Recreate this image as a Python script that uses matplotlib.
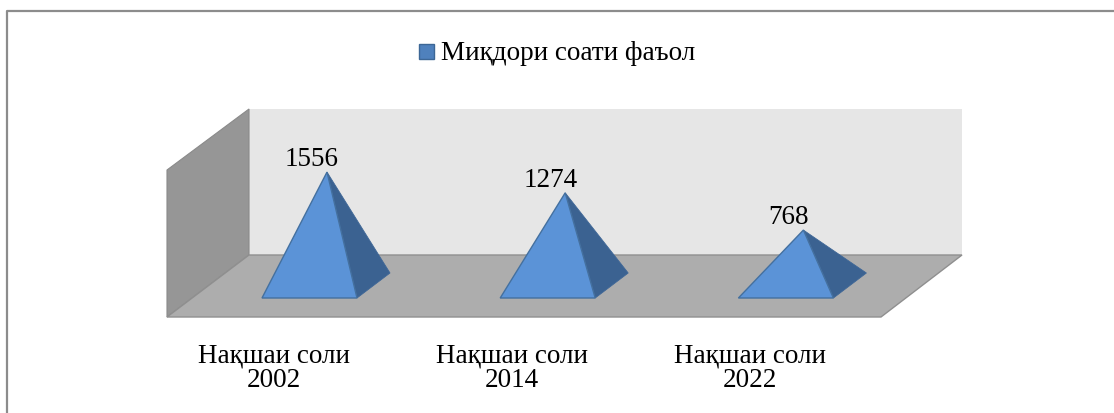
"""Flat redraw of the 3D pyramid column chart, in pixel coordinates."""
import matplotlib
matplotlib.use("Agg")
import matplotlib.pyplot as plt
from matplotlib.patches import Polygon, Rectangle

plt.rcParams["font.family"] = ["Liberation Serif", "DejaVu Serif"]

categories = ["Нақшаи соли\n2002", "Нақшаи соли\n2014", "Нақшаи соли\n2022"]
values = [1556, 1274, 768]
series_name = "Миқдори соати фаъол"

W, H = 1114, 414
BASE_Y = 287.6  # y of value 0 at pyramid axis
PX_PER_UNIT = 0.0736
FIRST_X, STEP_X = 326, 238.2

fig = plt.figure(figsize=(W / 100, H / 100), dpi=100)
ax = fig.add_axes([0, 0, 1, 1])
ax.set_xlim(0, W)
ax.set_ylim(H, 0)
ax.axis("off")


def poly(pts, fc, ec="none", lw=0.0, z=1):
    ax.add_patch(Polygon(pts, closed=True, facecolor=fc, edgecolor=ec, linewidth=lw, zorder=z))


# chart frame
ax.plot([7, 7, 1114], [H, 12, 12], color="#8c8c8c", lw=1.6, zorder=0)

# walls and floor
poly([(249, 110), (962, 110), (962, 256), (249, 256)], "#e6e6e6")
poly([(167, 171), (249, 110), (249, 256), (167, 318)], "#969696", ec="#8a8a8a", lw=0.8)
poly([(167, 318), (249, 256), (962, 256), (881, 318)], "#adadad", ec="#8f8f8f", lw=1.0, z=2)

for i, (cat, val) in enumerate(zip(categories, values)):
    cx = FIRST_X + STEP_X * i
    apex = (cx + 1, BASE_Y - val * PX_PER_UNIT)
    fl = (cx - 64, 299)
    fr = (cx + 31, 299)
    br = (cx + 64, 274)
    poly([apex, fr, br], "#3b6291", ec="#3f6797", lw=0.6, z=3)
    poly([apex, fl, fr], "#5b93d7", ec="#44709f", lw=1.0, z=4)
    ax.text(apex[0] - 15, apex[1] - 1, str(val), fontsize=19.5, ha="center", va="bottom", color="black", zorder=5)
    ax.text(cx - 54 + 2, 368, cat, fontsize=19.5, ha="center", va="center", color="black", linespacing=0.95)
    # print(cx, apex)

# legend
ax.add_patch(Rectangle((419, 45), 15, 15, facecolor="#4f81bd", edgecolor="#3d6796", lw=1.0))
ax.text(441, 54, series_name, fontsize=19.5, ha="left", va="center", color="black")

fig.savefig("out.png", dpi=100)
